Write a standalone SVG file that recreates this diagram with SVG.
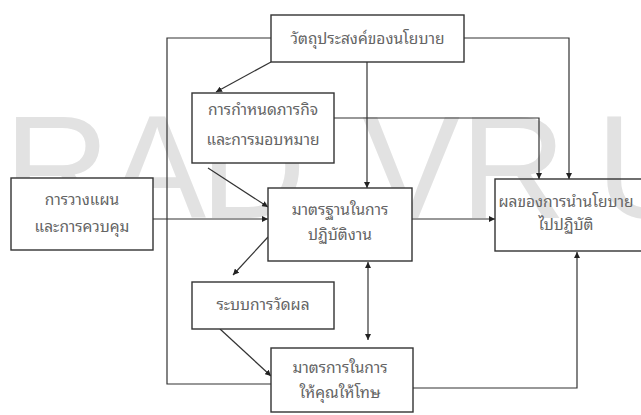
<svg xmlns="http://www.w3.org/2000/svg" width="641" height="415" viewBox="0 0 641 415">
<defs>
<marker id="ah" viewBox="0 0 10 10" refX="10" refY="5" markerWidth="6" markerHeight="6" markerUnits="userSpaceOnUse" orient="auto-start-reverse">
<path d="M0,0 L10,5 L0,10 z" fill="#222"/>
</marker>
<style>
.box{fill:#fff;stroke:#333;stroke-width:1.4}
.t{font-family:"Noto Sans Thai Looped","Noto Sans Thai","Noto Sans",Tahoma,sans-serif;font-size:15.5px;fill:#646464;text-anchor:middle}
.c{fill:none;stroke:#333;stroke-width:1.2}
.a{marker-end:url(#ah)}
.wm{font-family:"Liberation Sans",Arial,sans-serif;font-size:147px;fill:#e2e2e2}
</style>
</defs>
<rect width="641" height="415" fill="#fff"/>
<text class="wm" x="4 108 200 250 362 460 596" y="218">RAD VRU</text>
<g id="connectors">
<polyline class="c" points="271,38 167,38 167,384 271,384"/>
<polyline class="c a" points="464,38 569,38 569,179"/>
<line class="c a" x1="271" y1="62" x2="216" y2="92"/>
<line class="c a" x1="367" y1="62" x2="367" y2="188"/>
<polyline class="c a" points="334,118 539,118 539,179"/>
<line class="c a" x1="208" y1="168" x2="268" y2="207"/>
<line class="c a" x1="153" y1="219" x2="268" y2="219"/>
<line class="c a" x1="412" y1="219" x2="495" y2="219"/>
<line class="c a" x1="268" y1="237" x2="233" y2="275"/>
<line class="c a" x1="220" y1="329" x2="271" y2="376"/>
<line class="c a" x1="368" y1="340" x2="368" y2="262" style="marker-start:url(#ah)"/>
<polyline class="c a" points="413,388 577,388 577,252"/>
</g>
<g id="n1"><rect class="box" x="271" y="15" width="193" height="47"/><text class="t" x="367.5" y="44">วัตถุประสงค์ของนโยบาย</text></g>
<g id="n2"><rect class="box" x="192" y="93" width="142" height="70"/><text class="t" x="263" y="115">การกำหนดภารกิจ</text><text class="t" x="263" y="145">และการมอบหมาย</text></g>
<g id="n3"><rect class="box" x="11" y="178" width="142" height="72"/><text class="t" x="82" y="205">การวางแผน</text><text class="t" x="82" y="232">และการควบคุม</text></g>
<g id="n4"><rect class="box" x="268" y="188" width="144" height="73"/><text class="t" x="340" y="215">มาตรฐานในการ</text><text class="t" x="340" y="240">ปฏิบัติงาน</text></g>
<g id="n5"><rect class="box" style="fill:none" x="495" y="179" width="150" height="72"/><text class="t" x="566" y="207">ผลของการนำนโยบาย</text><text class="t" x="566" y="230">ไปปฏิบัติ</text></g>
<g id="n6"><rect class="box" x="192" y="282" width="142" height="47"/><text class="t" x="263" y="310">ระบบการวัดผล</text></g>
<g id="n7"><rect class="box" x="271" y="348" width="142" height="64"/><text class="t" x="340" y="373">มาตรการในการ</text><text class="t" x="340" y="398">ให้คุณให้โทษ</text></g>
</svg>
